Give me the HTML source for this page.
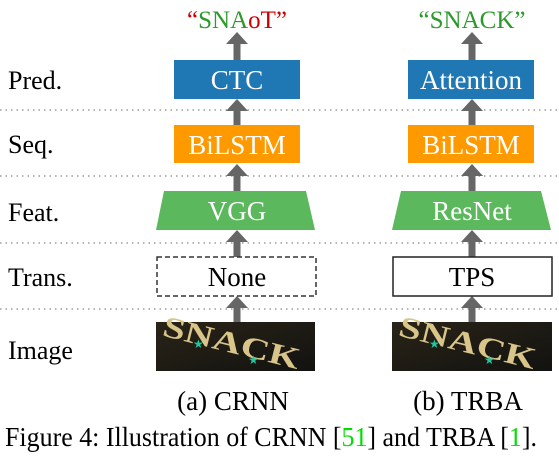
<!DOCTYPE html>
<html><head><meta charset="utf-8"><style>
html,body{margin:0;padding:0;background:#fff;}
svg{display:block;}
text{font-family:"Liberation Serif",serif;}
</style></head><body>
<svg width="559" height="459" viewBox="0 0 559 459" xmlns="http://www.w3.org/2000/svg">
<defs>
<g id="arr"><rect x="-3.5" y="10" width="7" height="18" fill="#666"/><polygon points="-11,12 0,0 11,12" fill="#666"/></g>
<linearGradient id="bg" x1="0" y1="0" x2="1" y2="1"><stop offset="0" stop-color="#2a2418"/><stop offset="1" stop-color="#121210"/></linearGradient>
</defs>
<g stroke="#888" stroke-width="1.3" stroke-dasharray="1.5,4">
<line x1="0" y1="110" x2="559" y2="110"/>
<line x1="0" y1="176" x2="559" y2="176"/>
<line x1="0" y1="243" x2="559" y2="243"/>
<line x1="0" y1="309" x2="559" y2="309"/>
</g>
<g font-size="26" fill="#000">
<text x="8" y="89">Pred.</text>
<text x="8" y="153">Seq.</text>
<text x="8" y="221">Feat.</text>
<text x="8" y="286">Trans.</text>
<text x="8" y="359">Image</text>
</g>
<text x="237" y="28" font-size="25" text-anchor="middle"><tspan fill="#c00">“</tspan><tspan fill="#2a9a2a">SNA</tspan><tspan fill="#c00">oT”</tspan></text>
<text x="472" y="28" font-size="25" text-anchor="middle" fill="#2a9a2a">“SNACK”</text>
<use href="#arr" x="237" y="32"/>
<use href="#arr" x="237" y="99"/>
<use href="#arr" x="237" y="164"/>
<use href="#arr" x="237" y="230"/>
<use href="#arr" x="237" y="296"/>
<use href="#arr" x="472" y="32"/>
<use href="#arr" x="472" y="99"/>
<use href="#arr" x="472" y="164"/>
<use href="#arr" x="472" y="230"/>
<use href="#arr" x="472" y="296"/>
<rect x="174" y="60" width="126" height="39" fill="#1f77b4"/>
<text x="237" y="89" font-size="27" fill="#fff" text-anchor="middle">CTC</text>
<rect x="174" y="125" width="126" height="38" fill="#ff9900"/>
<text x="237" y="154" font-size="27" fill="#fff" text-anchor="middle">BiLSTM</text>
<polygon points="164,191 306,191 315,230 156,230" fill="#5cb85c"/>
<text x="237" y="220" font-size="27" fill="#fff" text-anchor="middle">VGG</text>
<rect x="157" y="257" width="159" height="39" fill="#fff" stroke="#333" stroke-width="1.5" stroke-dasharray="5,3"/>
<text x="237" y="286" font-size="27" fill="#000" text-anchor="middle">None</text>
<rect x="408" y="60" width="126" height="39" fill="#1f77b4"/>
<text x="471" y="89" font-size="27" fill="#fff" text-anchor="middle">Attention</text>
<rect x="408" y="125" width="126" height="38" fill="#ff9900"/>
<text x="471" y="154" font-size="27" fill="#fff" text-anchor="middle">BiLSTM</text>
<polygon points="401,191 541,191 551,230 392,230" fill="#5cb85c"/>
<text x="472" y="220" font-size="27" fill="#fff" text-anchor="middle">ResNet</text>
<rect x="393" y="257" width="159" height="39" fill="#fff" stroke="#222" stroke-width="1.5"/>
<text x="472" y="286" font-size="27" fill="#000" text-anchor="middle">TPS</text>
<g>
<rect x="156" y="322" width="159" height="49" fill="url(#bg)"/>
<text x="160" y="345" font-size="30" font-weight="bold" fill="#d9c58a" font-family="Liberation Sans,sans-serif" transform="rotate(14 200 345)" textLength="140" lengthAdjust="spacingAndGlyphs">SNACK</text>
<text x="193" y="348" font-size="12" fill="#1cc8a0">★</text><text x="248" y="364" font-size="12" fill="#1cc8a0">★</text>
</g>
<g>
<rect x="392" y="322" width="160" height="49" fill="url(#bg)"/>
<text x="396" y="345" font-size="30" font-weight="bold" fill="#d9c58a" font-family="Liberation Sans,sans-serif" transform="rotate(14 436 345)" textLength="140" lengthAdjust="spacingAndGlyphs">SNACK</text>
<text x="429" y="348" font-size="12" fill="#1cc8a0">★</text><text x="484" y="364" font-size="12" fill="#1cc8a0">★</text>
</g>
<text x="233" y="410" font-size="27" text-anchor="middle">(a) CRNN</text>
<text x="468" y="410" font-size="27" text-anchor="middle">(b) TRBA</text>
<text x="5" y="446" font-size="27" textLength="532" lengthAdjust="spacingAndGlyphs">Figure 4: Illustration of CRNN [<tspan fill="#00dd00">51</tspan>] and TRBA [<tspan fill="#00dd00">1</tspan>].</text>
</svg>
</body></html>
